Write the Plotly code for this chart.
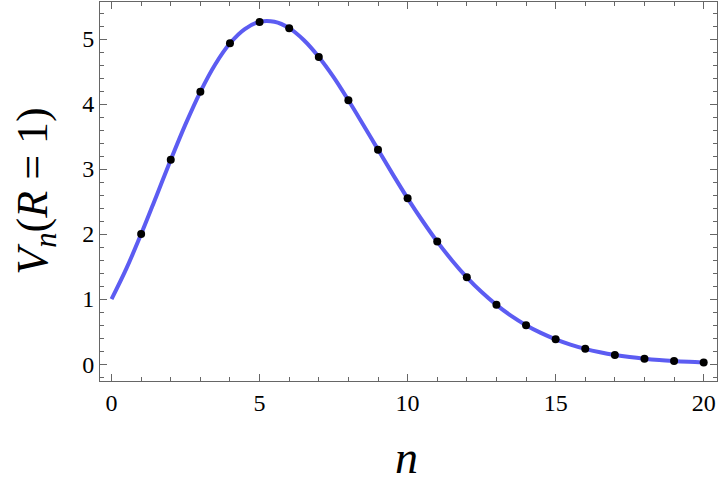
import plotly.graph_objects as go

# curve samples (n, V_n)
curve_n = [0, 0.5, 1, 1.5, 2, 2.5, 3, 3.5, 4, 4.5, 5, 5.5, 6, 6.5, 7, 7.5, 8, 8.5, 9, 9.5,
           10, 10.5, 11, 11.5, 12, 12.5, 13, 13.5, 14, 14.5, 15, 15.5, 16, 16.5, 17, 17.5,
           18, 18.5, 19, 19.5, 20]
curve_v = [1.0, 1.469, 2.0, 2.568, 3.142, 3.691, 4.189, 4.609, 4.935, 5.154, 5.264, 5.265,
           5.168, 4.982, 4.725, 4.415, 4.059, 3.683, 3.299, 2.918, 2.550, 2.205, 1.884,
           1.595, 1.335, 1.108, 0.911, 0.742, 0.599, 0.480, 0.381, 0.301, 0.235, 0.183,
           0.141, 0.108, 0.082, 0.062, 0.047, 0.035, 0.026]

# integer points
pts_n = list(range(1, 21))
pts_v = [2.0, 3.142, 4.189, 4.935, 5.264, 5.168, 4.725, 4.059, 3.299, 2.550,
         1.884, 1.335, 0.911, 0.599, 0.381, 0.235, 0.141, 0.082, 0.047, 0.026]

x_ticks = [0, 5, 10, 15, 20]
y_ticks = [0, 1, 2, 3, 4, 5]

fig = go.Figure()
fig.add_trace(go.Scatter(x=curve_n, y=curve_v, mode="lines",
                         line=dict(color="#5c5cf2", width=4, shape="spline"),
                         hoverinfo="skip"))
fig.add_trace(go.Scatter(x=pts_n, y=pts_v, mode="markers",
                         marker=dict(color="black", size=8)))

frame = "#666666"
tickfont = dict(family="Liberation Serif", size=24, color="black")

fig.update_layout(
    width=720, height=498,
    margin=dict(l=100, r=3, t=2, b=117),
    paper_bgcolor="white", plot_bgcolor="white",
    showlegend=False,
    xaxis=dict(range=[-0.39, 20.45], tickvals=x_ticks, ticks="inside", ticklen=7,
               tickcolor=frame, showline=True, linecolor=frame, linewidth=1,
               mirror="allticks", showgrid=False, zeroline=False, tickfont=tickfont,
               automargin=False,
               minor=dict(dtick=1, ticks="inside", ticklen=4, tickcolor=frame, showgrid=False)),
    yaxis=dict(range=[-0.26, 5.57], tickvals=y_ticks, ticks="inside", ticklen=7,
               tickcolor=frame, showline=True, linecolor=frame, linewidth=1,
               mirror="allticks", showgrid=False, zeroline=False, tickfont=tickfont,
               automargin=False,
               minor=dict(dtick=0.2, ticks="inside", ticklen=4, tickcolor=frame, showgrid=False)),
    annotations=[
        dict(text="<i>n</i>", xref="paper", yref="paper", x=0.497, y=-0.203,
             xanchor="center", yanchor="middle", showarrow=False,
             font=dict(family="Liberation Serif", size=46, color="black")),
        dict(text="<i>V</i><sub><i>n</i></sub>(<i>R</i> = 1)", xref="paper", yref="paper",
             x=-0.105, y=0.5, xanchor="center", yanchor="middle", textangle=-90,
             showarrow=False, font=dict(family="Liberation Serif", size=44, color="black")),
    ],
)

fig.write_html("out.html", config={"displayModeBar": False},
               post_script="document.body.style.margin='0';document.body.style.overflow='hidden';")
